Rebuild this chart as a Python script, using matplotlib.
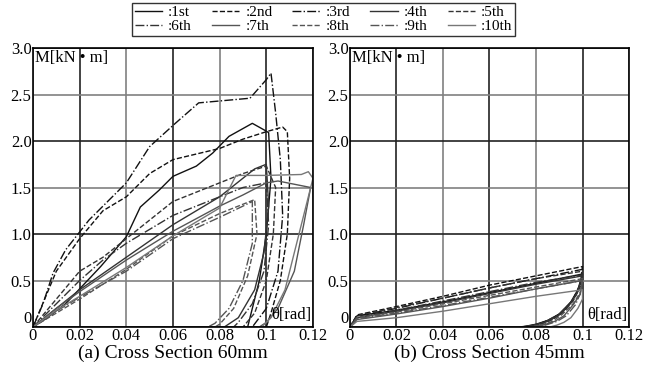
import matplotlib
matplotlib.use("Agg")
import matplotlib.pyplot as plt

plt.rcParams['font.family'] = ['Liberation Serif', 'DejaVu Serif']

labels = [':1st', ':2nd', ':3rd', ':4th', ':5th', ':6th', ':7th', ':8th', ':9th', ':10th']
styles = ['-', '--', '-.', '-', '--', '-.', '-', '--', '-.', '-']
colors = ['#111111', '#111111', '#111111', '#333333', '#333333', '#333333',
          '#555555', '#555555', '#555555', '#777777']

# (a) Cross Section 60mm : rotation [rad] / moment [kN m], loading then unloading
theta_a = [
    [0, 0.005, 0.014, 0.029, 0.04, 0.046, 0.054, 0.06, 0.07, 0.077, 0.084, 0.094, 0.099, 0.101, 0.102, 0.1, 0.097, 0.094, 0.092],
    [0, 0.01, 0.02, 0.03, 0.04, 0.05, 0.06, 0.08, 0.09, 0.1, 0.107, 0.109, 0.11, 0.109, 0.106, 0.102, 0.1],
    [0, 0.0043, 0.0086, 0.014, 0.024, 0.04, 0.05, 0.061, 0.071, 0.093, 0.1, 0.102, 0.104, 0.106, 0.107, 0.105, 0.1, 0.094],
    [0, 0.01, 0.02, 0.04, 0.06, 0.08, 0.09, 0.095, 0.1, 0.101, 0.099, 0.095, 0.088, 0.082],
    [0, 0.01, 0.02, 0.03, 0.04, 0.05, 0.06, 0.07, 0.08, 0.09, 0.1, 0.104, 0.103, 0.1, 0.095, 0.09],
    [0, 0.01, 0.02, 0.03, 0.04, 0.05, 0.06, 0.07, 0.08, 0.09, 0.1, 0.101, 0.099, 0.094, 0.088, 0.086],
    [0, 0.01, 0.02, 0.04, 0.06, 0.08, 0.09, 0.1, 0.105, 0.115, 0.119, 0.116, 0.112, 0.105, 0.1, 0.097],
    [0, 0.01, 0.02, 0.04, 0.06, 0.08, 0.09, 0.095, 0.096, 0.092, 0.086, 0.08, 0.078],
    [0, 0.01, 0.02, 0.04, 0.06, 0.08, 0.09, 0.094, 0.094, 0.09, 0.084, 0.078, 0.075],
    [0, 0.01, 0.02, 0.04, 0.06, 0.08, 0.087, 0.1, 0.115, 0.118, 0.12, 0.119, 0.116, 0.112, 0.108, 0.102, 0.098],
]
moment_a = [
    [0, 0.08, 0.25, 0.65, 0.97, 1.29, 1.47, 1.62, 1.73, 1.87, 2.05, 2.19, 2.12, 2.09, 1.6, 1.0, 0.5, 0.2, 0],
    [0, 0.6, 0.95, 1.25, 1.4, 1.65, 1.8, 1.92, 2.02, 2.1, 2.15, 2.1, 1.6, 1.0, 0.5, 0.15, 0],
    [0, 0.25, 0.58, 0.83, 1.15, 1.55, 1.94, 2.19, 2.41, 2.46, 2.66, 2.73, 2.3, 1.8, 1.2, 0.6, 0.2, 0],
    [0, 0.2, 0.4, 0.75, 1.1, 1.4, 1.6, 1.7, 1.75, 1.3, 0.8, 0.4, 0.1, 0],
    [0, 0.3, 0.6, 0.75, 0.95, 1.15, 1.35, 1.45, 1.55, 1.65, 1.73, 1.5, 1.0, 0.5, 0.15, 0],
    [0, 0.25, 0.5, 0.72, 0.9, 1.05, 1.2, 1.3, 1.4, 1.5, 1.55, 1.1, 0.6, 0.25, 0.05, 0],
    [0, 0.2, 0.38, 0.72, 1.03, 1.3, 1.42, 1.55, 1.57, 1.52, 1.5, 1.1, 0.6, 0.2, 0.05, 0],
    [0, 0.15, 0.3, 0.62, 0.98, 1.22, 1.32, 1.37, 1.0, 0.55, 0.2, 0.03, 0],
    [0, 0.17, 0.32, 0.6, 0.95, 1.18, 1.3, 1.35, 0.9, 0.5, 0.2, 0.04, 0],
    [0, 0.18, 0.33, 0.64, 0.98, 1.28, 1.63, 1.63, 1.64, 1.67, 1.6, 1.5, 1.2, 0.8, 0.4, 0.1, 0],
]

# (b) Cross Section 45mm
theta_b = [
    [0, 0.003, 0.02, 0.04, 0.06, 0.08, 0.1, 0.098, 0.095, 0.09, 0.085, 0.08, 0.074],
    [0, 0.003, 0.02, 0.04, 0.06, 0.08, 0.1, 0.099, 0.096, 0.092, 0.087, 0.082, 0.076],
    [0, 0.003, 0.02, 0.04, 0.06, 0.08, 0.1, 0.099, 0.096, 0.091, 0.086, 0.081, 0.075],
    [0, 0.003, 0.02, 0.04, 0.06, 0.08, 0.1, 0.098, 0.095, 0.09, 0.085, 0.079, 0.073],
    [0, 0.003, 0.02, 0.04, 0.06, 0.08, 0.1, 0.099, 0.096, 0.091, 0.086, 0.081, 0.076],
    [0, 0.003, 0.02, 0.04, 0.06, 0.08, 0.1, 0.098, 0.095, 0.09, 0.085, 0.08, 0.075],
    [0, 0.003, 0.02, 0.04, 0.06, 0.08, 0.1, 0.099, 0.096, 0.092, 0.088, 0.083, 0.078],
    [0, 0.003, 0.02, 0.04, 0.06, 0.08, 0.1, 0.099, 0.096, 0.091, 0.087, 0.082, 0.077],
    [0, 0.003, 0.02, 0.04, 0.06, 0.08, 0.1, 0.099, 0.097, 0.093, 0.089, 0.084, 0.08],
    [0, 0.003, 0.02, 0.04, 0.06, 0.08, 0.1, 0.1, 0.098, 0.095, 0.092, 0.089, 0.086],
]
moment_b = [
    [0, 0.12, 0.18, 0.27, 0.37, 0.47, 0.57, 0.4, 0.27, 0.14, 0.07, 0.03, 0],
    [0, 0.13, 0.22, 0.33, 0.45, 0.55, 0.65, 0.46, 0.3, 0.16, 0.08, 0.03, 0],
    [0, 0.12, 0.2, 0.31, 0.42, 0.52, 0.62, 0.44, 0.29, 0.15, 0.08, 0.03, 0],
    [0, 0.1, 0.17, 0.26, 0.36, 0.46, 0.55, 0.38, 0.26, 0.13, 0.06, 0.02, 0],
    [0, 0.12, 0.21, 0.31, 0.42, 0.52, 0.6, 0.43, 0.28, 0.15, 0.07, 0.03, 0],
    [0, 0.1, 0.18, 0.28, 0.38, 0.48, 0.56, 0.39, 0.26, 0.14, 0.07, 0.02, 0],
    [0, 0.08, 0.14, 0.22, 0.31, 0.41, 0.5, 0.35, 0.24, 0.12, 0.06, 0.02, 0],
    [0, 0.1, 0.16, 0.25, 0.34, 0.43, 0.52, 0.37, 0.25, 0.13, 0.06, 0.02, 0],
    [0, 0.09, 0.15, 0.23, 0.32, 0.41, 0.5, 0.36, 0.24, 0.12, 0.06, 0.02, 0],
    [0, 0.06, 0.1, 0.17, 0.25, 0.33, 0.4, 0.3, 0.2, 0.1, 0.05, 0.02, 0],
]

xticks = [0, 0.02, 0.04, 0.06, 0.08, 0.1, 0.12]
xticklabels = ['0', '0.02', '0.04', '0.06', '0.08', '0.1', '0.12']
yticks = [0, 0.5, 1.0, 1.5, 2.0, 2.5, 3.0]
yticklabels = ['0', '0.5', '1.0', '1.5', '2.0', '2.5', '3.0']
titles = ['(a) Cross Section 60mm', '(b) Cross Section 45mm']

fig = plt.figure(figsize=(6.57, 3.71), dpi=100)
ax1 = fig.add_axes([0.0502, 0.1186, 0.4262, 0.752])
ax2 = fig.add_axes([0.5327, 0.1186, 0.4247, 0.752])

for ax, th, mo, title in [(ax1, theta_a, moment_a, titles[0]), (ax2, theta_b, moment_b, titles[1])]:
    ax.set_xlim(0, 0.12)
    ax.set_ylim(0, 3.0)
    ax.set_xticks(xticks)
    ax.set_xticklabels(xticklabels, fontsize=12)
    ax.set_yticks(yticks)
    ax.set_yticklabels(yticklabels, fontsize=12)
    ax.tick_params(length=0, pad=1)
    # the "0" of the y axis sits a little above the x axis "0"
    ax.get_yticklabels()[0].set_verticalalignment('bottom')
    ax.grid(True, linewidth=1.2)
    # grid lines alternate dark / grey like the original
    for i, gl in enumerate(ax.get_xgridlines()):
        gl.set_color('#222222' if i % 2 == 1 else '#808080')
    for i, gl in enumerate(ax.get_ygridlines()):
        gl.set_color('#222222' if i % 2 == 0 else '#808080')
    ax.set_axisbelow(True)
    for sp in ax.spines.values():
        sp.set_linewidth(1.2)
    for k in range(10):
        ax.plot(th[k], mo[k], linestyle=styles[k], color=colors[k], linewidth=1.0, label=labels[k])
    ax.text(0.001, 2.98, 'M[kN • m]', fontsize=12, ha='left', va='top')
    ax.text(0.1195, 0.04, 'θ[rad]', fontsize=12, ha='right', va='bottom')
    ax.set_xlabel(title, fontsize=14, labelpad=0)

handles, labs = ax1.get_legend_handles_labels()
order = [0, 5, 1, 6, 2, 7, 3, 8, 4, 9]
leg = fig.legend([handles[i] for i in order], [labs[i] for i in order], ncol=5,
                 loc='upper center', bbox_to_anchor=(0.4925, 0.992),
                 fontsize=11, frameon=True, fancybox=False, edgecolor='black',
                 handlelength=1.8, handletextpad=0.4, columnspacing=1.3,
                 borderpad=0.15, labelspacing=0.05, borderaxespad=0.0)
leg.get_frame().set_linewidth(1.0)

fig.savefig('out.png', dpi=100)
